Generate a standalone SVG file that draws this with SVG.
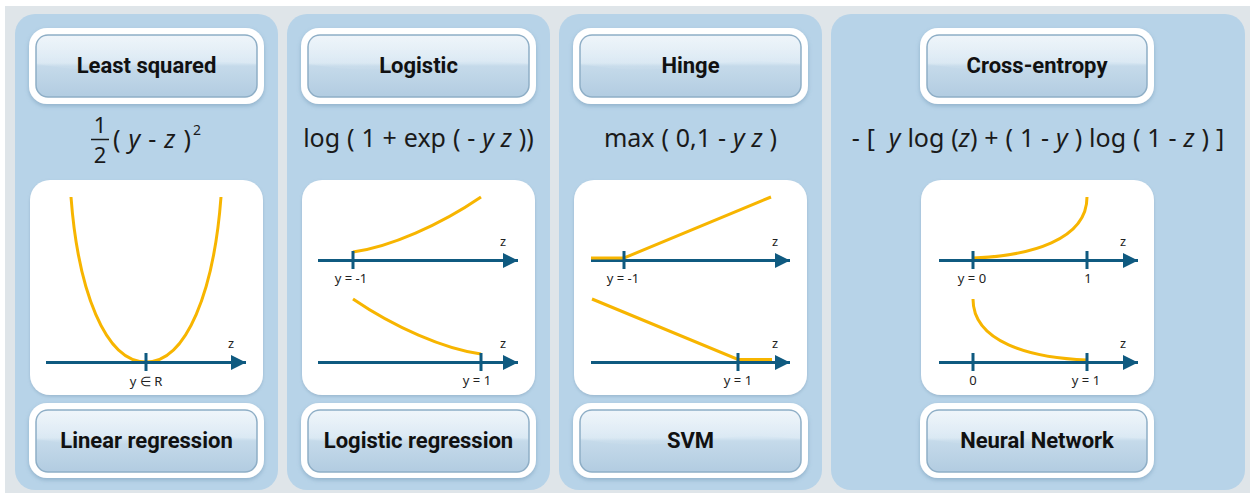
<svg xmlns="http://www.w3.org/2000/svg" width="1250" height="493" viewBox="0 0 1250 493">
<style>
.panel{fill:#b7d3e8}
.outer{fill:#ffffff;filter:url(#sh)}
.inner{fill:url(#gloss);stroke:#8eaec6;stroke-width:1.5}
.hl{fill:url(#hlg)}
.btxt{font-family:Roboto,"Liberation Sans",sans-serif;font-weight:700;font-size:22px;fill:#111;text-anchor:middle}
.card{fill:#ffffff;filter:url(#sh2)}
.f{font-family:"Noto Sans","Open Sans",sans-serif;font-size:25px;word-spacing:0.4px;fill:#1a1a1a}
.f22{font-family:"Noto Sans","Open Sans",sans-serif;font-size:22px;fill:#1a1a1a;text-anchor:middle}
.sup{font-family:"Noto Sans","Open Sans",sans-serif;font-size:14px;fill:#1a1a1a}
.it{font-style:italic}
.axis{stroke:#0f5a80;stroke-width:3;fill:none}
.tick{stroke:#0f5a80;stroke-width:3}
.cur{stroke:#f7b500;stroke-width:3;fill:none}
.lbl{font-family:"Noto Sans","Open Sans",sans-serif;font-size:13px;fill:#222;text-anchor:middle}
</style>
<defs>
<linearGradient id="gloss" x1="0" y1="0" x2="0" y2="1">
<stop offset="0" stop-color="#e6f0f8"/>
<stop offset="0.45" stop-color="#d6e6f2"/>
<stop offset="0.5" stop-color="#c5daea"/>
<stop offset="1" stop-color="#b2cce1"/>
</linearGradient>
<linearGradient id="hlg" x1="0" y1="0" x2="0" y2="1">
<stop offset="0" stop-color="#ffffff" stop-opacity="0.35"/>
<stop offset="1" stop-color="#ffffff" stop-opacity="0.05"/>
</linearGradient>
<filter id="sh" x="-10%" y="-10%" width="120%" height="130%">
<feDropShadow dx="0" dy="2" stdDeviation="2" flood-color="#5f86a6" flood-opacity="0.45"/>
</filter>
<filter id="sh2" x="-10%" y="-10%" width="120%" height="120%">
<feDropShadow dx="0" dy="1.5" stdDeviation="1.5" flood-color="#6f90aa" flood-opacity="0.4"/>
</filter>
<marker id="arr" viewBox="0 0 10 10" refX="10" refY="5" markerWidth="20" markerHeight="15" markerUnits="userSpaceOnUse" orient="auto">
<path d="M0,0 L10,5 L0,10 Z" fill="#0f5a80"/>
</marker>
</defs>

<rect x="5" y="6" width="1245" height="487" fill="#dfe5e9"/>

<g id="panels">
<rect class="panel" x="15" y="14" width="263" height="476" rx="20"/>
<rect class="panel" x="287" y="14" width="263" height="476" rx="20"/>
<rect class="panel" x="559" y="14" width="263" height="476" rx="20"/>
<rect class="panel" x="831" y="14" width="414" height="476" rx="20"/>
</g>

<!-- Panel 1 -->
<g id="hdr-least-squared">
<rect class="outer" x="29" y="28" width="235" height="76" rx="18"/>
<rect class="inner" x="36" y="35" width="221" height="62" rx="12"/>
<path class="hl" d="M37,47 Q37,36 48,36 L245,36 Q256,36 256,47 L256,64 Q200,58 146,66 Q90,74 37,64 Z"/>
<text class="btxt" x="146.5" y="73">Least squared</text>
</g>
<g id="formula-1">
<text class="f22" x="100" y="133">1</text>
<line x1="91" y1="139.5" x2="109" y2="139.5" stroke="#1a1a1a" stroke-width="1.5"/>
<text class="f22" x="100" y="163">2</text>
<text class="f" x="113" y="148" style="word-spacing:1.5px">( <tspan class="it">y</tspan> - <tspan class="it">z</tspan> )</text>
<text class="sup" x="193" y="135">2</text>
</g>
<g id="chart-1">
<rect class="card" x="30" y="180" width="233" height="215" rx="20"/>
<path class="cur" d="M71,197 C78,290 105,362 146,362 C187,362 214,290 221,197"/>
<line class="axis" x1="46" y1="362.5" x2="246" y2="362.5" marker-end="url(#arr)"/>
<line class="tick" x1="146" y1="353" x2="146" y2="371"/>
<text class="lbl" x="146" y="386">y ∈ R</text>
<text class="lbl" x="231" y="348">z</text>
</g>
<g id="ftr-linear-regression">
<rect class="outer" x="29" y="403" width="235" height="75" rx="18"/>
<rect class="inner" x="36" y="410" width="221" height="62" rx="12"/>
<path class="hl" d="M37,422 Q37,411 48,411 L245,411 Q256,411 256,422 L256,439 Q200,433 146,441 Q90,449 37,439 Z"/>
<text class="btxt" x="146.5" y="448">Linear regression</text>
</g>

<!-- Panel 2 -->
<g id="hdr-logistic">
<rect class="outer" x="301" y="28" width="235" height="76" rx="18"/>
<rect class="inner" x="308" y="35" width="221" height="62" rx="12"/>
<path class="hl" d="M309,47 Q309,36 320,36 L517,36 Q528,36 528,47 L528,64 Q472,58 418,66 Q362,74 309,64 Z"/>
<text class="btxt" x="418.5" y="73">Logistic</text>
</g>
<g id="formula-2">
<text class="f" x="418.5" y="147" text-anchor="middle">log ( 1 + exp ( - <tspan class="it">y</tspan> <tspan class="it">z</tspan> ))</text>
</g>
<g id="chart-2">
<rect class="card" x="302" y="180" width="233" height="215" rx="20"/>
<path class="cur" d="M353,252 C390,247 440,225 481,197"/>
<line class="axis" x1="318" y1="260.5" x2="518" y2="260.5" marker-end="url(#arr)"/>
<line class="tick" x1="353" y1="251" x2="353" y2="269"/>
<text class="lbl" x="351" y="283">y = -1</text>
<text class="lbl" x="503" y="246">z</text>
<path class="cur" d="M353,299 C394,327 444,349 481,354"/>
<line class="axis" x1="318" y1="362.5" x2="518" y2="362.5" marker-end="url(#arr)"/>
<line class="tick" x1="481" y1="353" x2="481" y2="371"/>
<text class="lbl" x="477" y="385">y = 1</text>
<text class="lbl" x="503" y="348">z</text>
</g>
<g id="ftr-logistic-regression">
<rect class="outer" x="301" y="403" width="235" height="75" rx="18"/>
<rect class="inner" x="308" y="410" width="221" height="62" rx="12"/>
<path class="hl" d="M309,422 Q309,411 320,411 L517,411 Q528,411 528,422 L528,439 Q472,433 418,441 Q362,449 309,439 Z"/>
<text class="btxt" x="418.5" y="448">Logistic regression</text>
</g>

<!-- Panel 3 -->
<g id="hdr-hinge">
<rect class="outer" x="573" y="28" width="235" height="76" rx="18"/>
<rect class="inner" x="580" y="35" width="221" height="62" rx="12"/>
<path class="hl" d="M581,47 Q581,36 592,36 L789,36 Q800,36 800,47 L800,64 Q744,58 690,66 Q634,74 581,64 Z"/>
<text class="btxt" x="690.5" y="73">Hinge</text>
</g>
<g id="formula-3">
<text class="f" x="690.5" y="147" text-anchor="middle">max ( 0,1 - <tspan class="it">y</tspan> <tspan class="it">z</tspan> )</text>
</g>
<g id="chart-3">
<rect class="card" x="574" y="180" width="233" height="215" rx="20"/>
<line class="axis" x1="591" y1="260.5" x2="790" y2="260.5" marker-end="url(#arr)"/>
<path class="cur" d="M591,258 L624,258 L771,197"/>
<line class="tick" x1="624" y1="251" x2="624" y2="269"/>
<text class="lbl" x="623" y="283">y = -1</text>
<text class="lbl" x="775" y="246">z</text>
<line class="axis" x1="591" y1="362.5" x2="790" y2="362.5" marker-end="url(#arr)"/>
<path class="cur" d="M592,299 L738,359.5 L772,359.5"/>
<line class="tick" x1="738" y1="353" x2="738" y2="371"/>
<text class="lbl" x="738" y="385">y = 1</text>
<text class="lbl" x="775" y="348">z</text>
</g>
<g id="ftr-svm">
<rect class="outer" x="573" y="403" width="235" height="75" rx="18"/>
<rect class="inner" x="580" y="410" width="221" height="62" rx="12"/>
<path class="hl" d="M581,422 Q581,411 592,411 L789,411 Q800,411 800,422 L800,439 Q744,433 690,441 Q634,449 581,439 Z"/>
<text class="btxt" x="690.5" y="448">SVM</text>
</g>

<!-- Panel 4 -->
<g id="hdr-cross-entropy">
<rect class="outer" x="920" y="28" width="234" height="76" rx="18"/>
<rect class="inner" x="927" y="35" width="220" height="62" rx="12"/>
<path class="hl" d="M928,47 Q928,36 939,36 L1135,36 Q1146,36 1146,47 L1146,64 Q1090,58 1037,66 Q981,74 928,64 Z"/>
<text class="btxt" x="1037" y="73">Cross-entropy</text>
</g>
<g id="formula-4">
<text class="f" x="1038" y="147" text-anchor="middle" xml:space="preserve">- [  <tspan class="it">y</tspan> log (<tspan class="it">z</tspan>) + ( 1 - <tspan class="it">y</tspan> ) log ( 1 - <tspan class="it">z</tspan> ) ]</text>
</g>
<g id="chart-4">
<rect class="card" x="921" y="180" width="233" height="215" rx="20"/>
<path class="cur" d="M973,258 C1030,256 1087,240 1087,197"/>
<line class="axis" x1="939" y1="260.5" x2="1138" y2="260.5" marker-end="url(#arr)"/>
<line class="tick" x1="973" y1="251" x2="973" y2="269"/>
<line class="tick" x1="1087" y1="251" x2="1087" y2="269"/>
<text class="lbl" x="972" y="283">y = 0</text>
<text class="lbl" x="1088" y="283">1</text>
<text class="lbl" x="1123" y="246">z</text>
<path class="cur" d="M973,299 C973,342 1030,358 1087,360"/>
<line class="axis" x1="939" y1="362.5" x2="1138" y2="362.5" marker-end="url(#arr)"/>
<line class="tick" x1="973" y1="353" x2="973" y2="371"/>
<line class="tick" x1="1087" y1="353" x2="1087" y2="371"/>
<text class="lbl" x="973" y="385">0</text>
<text class="lbl" x="1086" y="385">y = 1</text>
<text class="lbl" x="1123" y="348">z</text>
</g>
<g id="ftr-neural-network">
<rect class="outer" x="920" y="403" width="234" height="75" rx="18"/>
<rect class="inner" x="927" y="410" width="220" height="62" rx="12"/>
<path class="hl" d="M928,422 Q928,411 939,411 L1135,411 Q1146,411 1146,422 L1146,439 Q1090,433 1037,441 Q981,449 928,439 Z"/>
<text class="btxt" x="1037" y="448">Neural Network</text>
</g>
<g id="connectors"/>
</svg>
